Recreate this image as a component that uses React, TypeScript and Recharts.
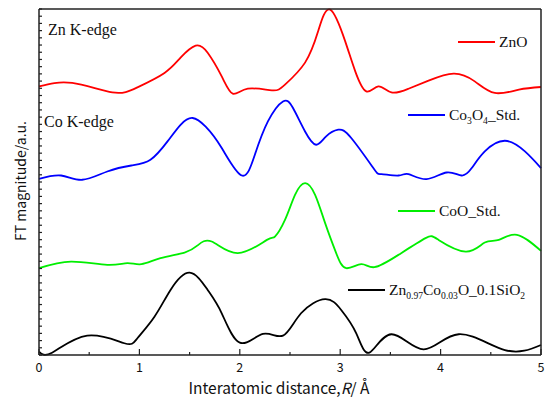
import { LineChart, Line, XAxis, YAxis, Legend } from 'recharts';

// R values (Å) and FT magnitudes (a.u., stacked offsets)
const znoR = [0, 0.33, 0.73, 0.98, 1.25, 1.41, 1.56, 1.68, 1.82, 1.93, 2.08, 2.32, 2.45, 2.65, 2.78, 2.9, 3.05, 3.15, 3.26, 3.38, 3.51, 3.68, 3.88, 4.13, 4.34, 4.54, 4.78, 5];
const znoFT = [37.26, 37.74, 36.43, 37.13, 39.13, 41.25, 42.92, 41.94, 38.65, 36.25, 36.94, 36.71, 37.5, 40.56, 44.9, 47.92, 43.51, 39.35, 36.57, 37.26, 36.43, 36.94, 38.06, 39.03, 37.96, 36.35, 36.81, 37.18];

const co3o4R = [0, 0.22, 0.43, 0.68, 0.92, 1.11, 1.28, 1.41, 1.53, 1.66, 1.82, 2.02, 2.15, 2.28, 2.43, 2.53, 2.65, 2.76, 2.86, 2.98, 3.11, 3.33, 3.41, 3.58, 3.68, 3.86, 4.06, 4.21, 4.31, 4.44, 4.64, 4.84, 5];
const co3o4FT = [24.44, 24.9, 24.31, 25.46, 26.29, 27.08, 29.63, 31.94, 32.88, 31.67, 28.71, 24.9, 27.78, 32.4, 35.18, 34.26, 31.01, 29.17, 30.32, 31.25, 30.1, 25.93, 25.1, 24.9, 25.1, 24.4, 25.32, 24.9, 25.93, 28.24, 29.72, 28.24, 25.93];

const cooR = [0, 0.32, 0.68, 0.88, 1.02, 1.21, 1.45, 1.58, 1.72, 1.98, 2.27, 2.35, 2.45, 2.55, 2.65, 2.75, 2.85, 2.96, 3.06, 3.21, 3.34, 3.58, 3.85, 3.98, 4.25, 4.44, 4.58, 4.76, 5];
const cooFT = [12.04, 12.96, 12.5, 12.74, 12.6, 13.43, 14.21, 15.2, 15.74, 14.13, 15.97, 16.43, 18.75, 22.22, 23.85, 22.22, 18.29, 14.13, 12.04, 12.6, 12.18, 13.89, 16.21, 15.97, 14.35, 15.6, 15.97, 16.67, 14.44];

const sampleR = [0, 0.13, 0.48, 0.85, 0.98, 1.15, 1.31, 1.5, 1.68, 1.82, 2, 2.23, 2.43, 2.61, 2.85, 3.01, 3.16, 3.29, 3.51, 3.83, 4.18, 4.64, 5];
const sampleFT = [0.46, 0.32, 2.68, 1.63, 2.32, 5.32, 9.03, 11.43, 9.03, 5.79, 1.71, 2.92, 2.68, 5.79, 7.74, 6.25, 3.01, 0.32, 2.88, 0.79, 2.88, 0.69, 1.39];

const xTicks = [0, 0.5, 1, 1.5, 2, 2.5, 3, 3.5, 4, 4.5, 5];
const yTicks = Array.from({ length: 49 }, (_, i) => i);

const toPoints = (rs: number[], vs: number[]) => rs.map((r, i) => ({ r, v: vs[i] }));

type Seg = { t: string; sub?: boolean };

const series = [
  { name: 'ZnO', color: '#ff0000', data: toPoints(znoR, znoFT), label: [{ t: 'ZnO' }] as Seg[], lx: 458, ly: 42 },
  {
    name: 'Co3O4_Std.', color: '#0000ff', data: toPoints(co3o4R, co3o4FT),
    label: [{ t: 'Co' }, { t: '3', sub: true }, { t: 'O' }, { t: '4', sub: true }, { t: '_Std.' }] as Seg[], lx: 408, ly: 115,
  },
  { name: 'CoO_Std.', color: '#00ee00', data: toPoints(cooR, cooFT), label: [{ t: 'CoO_Std.' }] as Seg[], lx: 398, ly: 211 },
  {
    name: 'Zn0.97Co0.03O_0.1SiO2', color: '#000000', data: toPoints(sampleR, sampleFT),
    label: [{ t: 'Zn' }, { t: '0.97', sub: true }, { t: 'Co' }, { t: '0.03', sub: true }, { t: 'O_0.1SiO' }, { t: '2', sub: true }] as Seg[], lx: 348, ly: 290,
  },
];

const serif = '"Liberation Serif", "Times New Roman", serif';
const gothic = '"Noto Sans CJK JP", "DejaVu Sans", sans-serif';
const axisColor = '#222';

const BottomTick = ({ x, y, payload }: any) => {
  const major = Number.isInteger(payload.value);
  return (
    <g>
      <line x1={x} x2={x} y1={y} y2={y - (major ? 6 : 3)} stroke={axisColor} strokeWidth={1.2} />
      {major && (
        <text x={x} y={y + 17} textAnchor="middle" fontSize={12.5} fontFamily={gothic} fill="#111">
          {payload.value}
        </text>
      )}
    </g>
  );
};

const TopTick = ({ x, y, payload }: any) => {
  const major = Number.isInteger(payload.value);
  return <line x1={x} x2={x} y1={y} y2={y + (major ? 5 : 3)} stroke={axisColor} strokeWidth={1.2} />;
};

const LeftTick = ({ x, y }: any) => <line x1={x} x2={x + 3} y1={y} y2={y} stroke={axisColor} strokeWidth={1.2} />;

const SegText = ({ x, y, segs, size }: { x: number; y: number; segs: Seg[]; size: number }) => {
  let prevSub = false;
  return (
    <text x={x} y={y} fontSize={size} fontFamily={serif} fill="#111">
      {segs.map((s, i) => {
        const dy = s.sub && !prevSub ? 4 : !s.sub && prevSub ? -4 : 0;
        prevSub = !!s.sub;
        return (
          <tspan key={i} dy={dy} fontSize={s.sub ? size * 0.62 : size}>
            {s.t}
          </tspan>
        );
      })}
    </text>
  );
};

const Overlay = () => (
  <svg width={545} height={399} style={{ display: 'block' }}>
    <text x={48} y={35} fontSize={16} fontFamily={serif} fill="#111">Zn K-edge</text>
    <text x={44} y={127} fontSize={16} fontFamily={serif} fill="#111">Co K-edge</text>
    {series.map((s) => (
      <g key={s.name}>
        <line x1={s.lx} x2={s.lx + 37} y1={s.ly} y2={s.ly} stroke={s.color} strokeWidth={1.8} />
        <SegText x={s.lx + 41} y={s.ly + 5} segs={s.label} size={15.5} />
      </g>
    ))}
  </svg>
);

export default function App() {
  return (
    <div style={{ position: 'absolute', left: 0, top: 0, background: '#fff' }}>
      <LineChart width={545} height={399} margin={{ top: 8, right: 0, left: 0, bottom: 0 }}>
        <XAxis
          dataKey="r"
          type="number"
          domain={[0, 5]}
          ticks={xTicks}
          interval={0}
          height={44}
          tickSize={0}
          tickMargin={0}
          tickLine={false}
          tick={<BottomTick />}
          stroke={axisColor}
          strokeWidth={1.5}
          label={{
            content: () => (
              <text x={279} y={394} textAnchor="middle" fontSize={15.5} fontFamily={gothic} fill="#111">
                Interatomic distance,<tspan fontStyle="italic">R</tspan>/ Å
              </text>
            ),
          }}
        />
        <XAxis
          xAxisId="top"
          orientation="top"
          dataKey="r"
          type="number"
          domain={[0, 5]}
          ticks={xTicks}
          interval={0}
          height={1}
          tickSize={0}
          tickMargin={0}
          tickLine={false}
          tick={<TopTick />}
          stroke={axisColor}
          strokeWidth={1.5}
        />
        <YAxis
          type="number"
          domain={[0, 48]}
          ticks={yTicks}
          interval={0}
          width={39}
          tickSize={0}
          tickMargin={0}
          tickLine={false}
          tick={<LeftTick />}
          stroke={axisColor}
          strokeWidth={1.5}
          label={{
            content: () => (
              <text
                x={26}
                y={181}
                transform="rotate(-90 26 181)"
                textAnchor="middle"
                fontSize={14}
                fontFamily={gothic}
                fill="#111"
              >
                FT magnitude/a.u.
              </text>
            ),
          }}
        />
        <YAxis yAxisId="right" orientation="right" domain={[0, 48]} width={4} tick={false} tickLine={false} stroke={axisColor} strokeWidth={1.5} />
        {series.map((s) => (
          <Line
            key={s.name}
            data={s.data}
            dataKey="v"
            name={s.name}
            type="natural"
            stroke={s.color}
            strokeWidth={1.8}
            dot={false}
            isAnimationActive={false}
          />
        ))}
        <Legend
          layout="horizontal"
          verticalAlign="middle"
          align="center"
          wrapperStyle={{ position: 'absolute', left: 0, top: 0, width: 545, height: 399, pointerEvents: 'none' }}
          content={() => <Overlay />}
        />
      </LineChart>
    </div>
  );
}
